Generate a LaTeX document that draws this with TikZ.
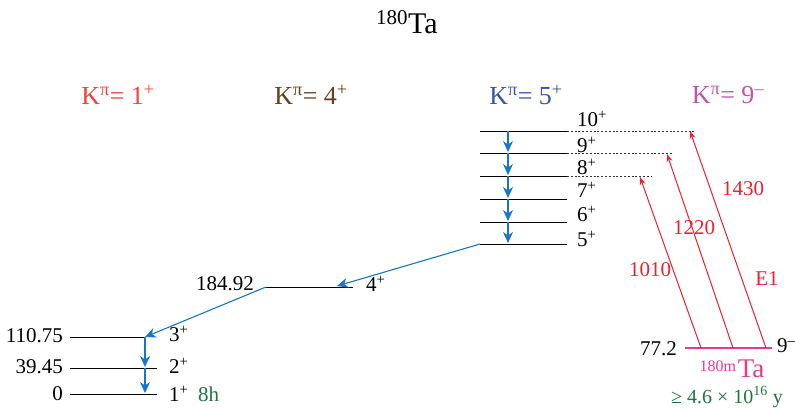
\documentclass[tikz,border=0pt]{standalone}
\usepackage{fontspec}
\setmainfont{Liberation Serif}
\usetikzlibrary{arrows.meta,positioning}
\definecolor{KoneRed}{RGB}{240,66,58}
\definecolor{KfourBrown}{RGB}{102,62,26}
\definecolor{KfiveBlue}{RGB}{58,82,170}
\definecolor{KnineViolet}{RGB}{192,82,172}
\definecolor{GammaBlue}{RGB}{22,118,200}
\definecolor{GammaRed}{RGB}{238,32,44}
\definecolor{IsoPink}{RGB}{232,58,140}
\definecolor{LifeGreen}{RGB}{30,118,62}

\begin{document}
\begin{tikzpicture}[x=1pt,y=-1pt,
	levelline/.style={line width=0.9pt,black},
	dashext/.style={line width=0.6pt,dash pattern=on 2pt off 1.8pt,black!80},
	bluegamma/.style={line width=1.1pt,GammaBlue,-{Stealth[length=11pt,width=10pt]}},
	redgamma/.style={line width=1pt,GammaRed,-{Stealth[length=8pt,width=6pt]}},
	lvlabel/.style={font=\fontsize{21}{23}\selectfont,inner sep=0pt},
	bandlabel/.style={font=\fontsize{26}{28}\selectfont,inner sep=0pt}]
	\useasboundingbox (0,0) rectangle (795,409);
	
	% 标题
	\node[inner sep=0pt,font=\fontsize{30}{32}\selectfont] (title) at (407,22) {\textsuperscript{180}Ta};
	
	% 转动带标题
	\node[bandlabel,KoneRed] (kone) at (118,95) {K\textsuperscript{π}= 1\textsuperscript{+}};
	\node[bandlabel,KfourBrown] (kfour) at (311,95) {K\textsuperscript{π}= 4\textsuperscript{+}};
	\node[bandlabel,KfiveBlue] (kfive) at (526,95) {K\textsuperscript{π}= 5\textsuperscript{+}};
	\node[bandlabel,KnineViolet] (knine) at (728,95) {K\textsuperscript{π}= 9\textsuperscript{–}};
	
	% K=1+ 带
	\coordinate (oneL) at (70,394);  \coordinate (oneR) at (157,394);
	\coordinate (twoL) at (70,368);  \coordinate (twoR) at (157,368);
	\coordinate (threeL) at (70,337); \coordinate (threeR) at (145,337);
	\draw[levelline] (oneL) -- (oneR);
	\draw[levelline] (twoL) -- (twoR);
	\draw[levelline] (threeL) -- (threeR);
	\node[lvlabel,anchor=east] (eone) at (63,394) {0};
	\node[lvlabel,anchor=east] (etwo) at (63,367) {39.45};
	\node[lvlabel,anchor=east] (ethree) at (63,336) {110.75};
	\node[lvlabel,anchor=west] (sone) at (169,394) {1\textsuperscript{+}};
	\node[lvlabel,anchor=west] (stwo) at (169,366) {2\textsuperscript{+}};
	\node[lvlabel,anchor=west] (sthree) at (169,334) {3\textsuperscript{+}};
	\node[lvlabel,anchor=west,LifeGreen] (halfone) at (198,394) {8h};
	
	% K=4+ 带
	\coordinate (fourL) at (266,287); \coordinate (fourR) at (353,287);
	\draw[levelline] (fourL) -- (fourR);
	\node[lvlabel,anchor=east] (efour) at (254,284) {184.92};
	\node[lvlabel,anchor=west] (sfour) at (366,284) {4\textsuperscript{+}};
	
	% K=5+ 带
	\foreach \nm/\yy/\sp/\ly in {b5/244/5/239,b6/222/6/214,b7/199/7/190,b8/176/8/167,b9/153/9/145,b10/131/10/119}{
		\coordinate (\nm L) at (480,\yy);
		\coordinate (\nm R) at (567,\yy);
		\coordinate (\nm G) at (508,\yy);
		\draw[levelline] (\nm L) -- (\nm R);
		\node[lvlabel,anchor=west] (\nm lab) at (577,\ly) {\sp\textsuperscript{+}};
	}
	
	% 虚线延长
	\coordinate (d10) at (695,131);
	\coordinate (d9) at (673,153);
	\coordinate (d8) at (651,176);
	\draw[dashext] (b10R) -- (d10);
	\draw[dashext] (b9R) -- (d9);
	\draw[dashext] (b8R) -- (d8);
	
	% K=9- 同质异能态
	\coordinate (isoL) at (685,348); \coordinate (isoR) at (772,348);
	\draw[line width=1.1pt,IsoPink] (isoL) -- (isoR);
	\node[lvlabel,anchor=east] (eiso) at (677,349) {77.2};
	\node[lvlabel,anchor=west] (siso) at (777,346) {9\textsuperscript{–}};
	\node[inner sep=0pt,IsoPink,anchor=base] (isoname) at (732,377)
		{\raisebox{6pt}{\fontsize{16}{17}\selectfont 180m}\,\fontsize{27}{28}\selectfont Ta};
	\node[lvlabel,LifeGreen,font=\fontsize{20}{22}\selectfont] (halfiso) at (727,397) {≥ 4.6 × 10\textsuperscript{16} y};
	
	% 红色 E1 跃迁
	\coordinate (ua) at (701,348); \coordinate (ta) at (640,177);
	\coordinate (ub) at (733,348); \coordinate (tb) at (667,154);
	\coordinate (uc) at (766,348); \coordinate (tc) at (690,131);
	\draw[redgamma] (ua) -- (ta);
	\draw[redgamma] (ub) -- (tb);
	\draw[redgamma] (uc) -- (tc);
	\node[lvlabel,GammaRed] (ga) at (650,270) {1010};
	\node[lvlabel,GammaRed] (gb) at (694,228) {1220};
	\node[lvlabel,GammaRed] (gc) at (743,189) {1430};
	\node[lvlabel,GammaRed] (ge) at (767,279) {E1};
	
	% 蓝色级联
	\draw[bluegamma,shorten >=1pt] (b10G) -- (b9G);
	\draw[bluegamma,shorten >=1pt] (b9G) -- (b8G);
	\draw[bluegamma,shorten >=1pt] (b8G) -- (b7G);
	\draw[bluegamma,shorten >=1pt] (b7G) -- (b6G);
	\draw[bluegamma,shorten >=1pt] (b6G) -- (b5G);
	\draw[bluegamma] (b5L) -- (337,286);
	\draw[bluegamma] (fourL) -- (threeR);
	\draw[bluegamma,shorten >=1pt] (threeR) -- (twoR -| threeR);
	\draw[bluegamma,shorten >=1pt] (twoR -| threeR) -- (oneR -| threeR);
\end{tikzpicture}
\end{document}
